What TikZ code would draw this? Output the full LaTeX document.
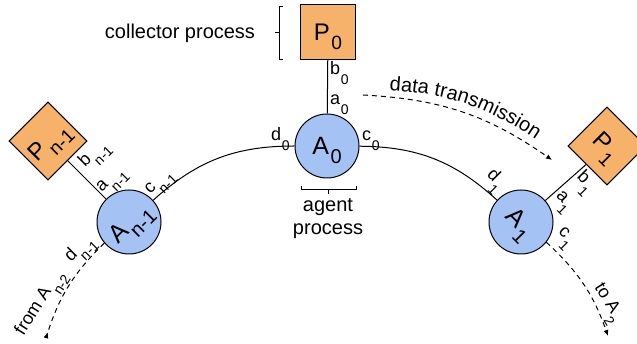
\documentclass[tikz,border=0pt]{standalone}
\usepackage{fontspec}
\setmainfont{Liberation Sans}
\usepackage{graphicx}
\usetikzlibrary{arrows.meta,decorations.text}
\definecolor{corange}{HTML}{F6B26B}
\definecolor{cblue}{HTML}{A4C2F4}
\newcommand{\nsub}[1]{\kern0.06em\raisebox{-0.37em}{\scalebox{0.8}{#1}}}
\newcommand{\lsub}[1]{\kern0.04em\raisebox{-0.55em}{\scalebox{0.78}{#1}}}
\begin{document}
\begin{tikzpicture}[x=1pt,y=1pt,
  agentnode/.style={circle, draw, fill=cblue, line width=1pt, minimum size=64pt, inner sep=0pt, text depth=0pt, font=\fontsize{25}{25}\selectfont},
  collnode/.style={rectangle, draw, fill=corange, line width=1pt, minimum size=55pt, inner sep=0pt, text depth=0pt, font=\fontsize{24}{24}\selectfont},
  portlabel/.style={inner sep=0pt, font=\fontsize{18}{18}\selectfont},
  captiontext/.style={inner sep=0pt, font=\fontsize{20}{23}\selectfont, align=center},
  link/.style={line width=1pt},
  flow/.style={line width=1pt, dash pattern=on 5pt off 4pt},
  tipend/.style={-{Latex[length=6pt,width=5pt]}},
  tiprev/.style={-{Latex[reversed,length=6pt,width=5pt]}}
]
\useasboundingbox (0,0) rectangle (637,344);

\coordinate (fromEnd) at (46,6);
\coordinate (toEnd) at (608,8);
\coordinate (dtS) at (363,249);
\coordinate (dtE) at (552,184);
\coordinate (txS) at (382,254);
\coordinate (txE) at (542,200);

% nodes
\node[agentnode] (A0) at (327,198) {A\nsub{0}};
\node[collnode] (P0) at (328,312) {P\nsub{0}};
\node[agentnode, rotate=45] (An) at (129,122) {A\nsub{n-1}};
\node[collnode, rotate=45] (Pn) at (48,203) {P\nsub{n-1}};
\node[agentnode, rotate=-45] (A1) at (521,122) {A\nsub{1}};
\node[collnode, rotate=-45] (P1) at (607,198) {P\nsub{1}};

% connectors
\draw[link] (A0) -- (P0);
\draw[link] (An) -- (Pn);
\draw[link] (A1) -- (P1);
\draw[link] (An) to[bend left=21] (A0);
\draw[link] (A0) to[bend left=21] (A1);
\draw[flow, tiprev] (An) to[bend right=14] (fromEnd);
\draw[flow, tipend] (A1) to[bend left=14] (toEnd);
\draw[flow, tipend] (dtS) to[bend left=16] (dtE);

% port labels centre
\node[portlabel, anchor=base west] (lb0) at (330,269) {b\lsub{0}};
\node[portlabel, anchor=base west] (la0) at (330,239) {a\lsub{0}};
\node[portlabel, anchor=base west] (ld0) at (271,203) {d\lsub{0}};
\node[portlabel, anchor=base west] (lc0) at (362,203) {c\lsub{0}};

% port labels left
\node[portlabel, rotate=45] (lbn) at (95,189) {b\lsub{n-1}};
\node[portlabel, rotate=45] (lan) at (113,162) {a\lsub{n-1}};
\node[portlabel, rotate=45] (lcn) at (161,160) {c\lsub{n-1}};
\node[portlabel, rotate=45] (ldn) at (81,94) {d\lsub{n-1}};
\node[portlabel, rotate=58] (lfrom) at (42,40) {from A\lsub{n-2}};

% port labels right
\node[portlabel, rotate=-45] (ld1) at (494,163) {d\lsub{1}};
\node[portlabel, rotate=-45] (la1) at (562,141) {a\lsub{1}};
\node[portlabel, rotate=-45] (lb1) at (584,161) {b\lsub{1}};
\node[portlabel, rotate=-45] (lc1) at (564,105) {c\lsub{1}};
\node[portlabel, rotate=-58] (lto) at (606,40) {to A\lsub{2}};

% captions
\node[captiontext] (capcoll) at (180,311) {collector process};
\node[captiontext] (capagent) at (328,125.5) {agent\\process};
\path[decorate, decoration={text along path, text align=center,
  text={|\fontsize{20}{20}\selectfont|data transmission}}]
  (txS) to[bend left=16] (txE);

% brackets
\draw[link] (301,158) -- (301,154) -- (356,154) -- (356,158);
\draw[link] (328.5,154) -- (328.5,150);
\draw[link] (283,337) -- (279,337) -- (279,284) -- (283,284);
\draw[link] (279,311) -- (275,311);
\end{tikzpicture}
\end{document}
